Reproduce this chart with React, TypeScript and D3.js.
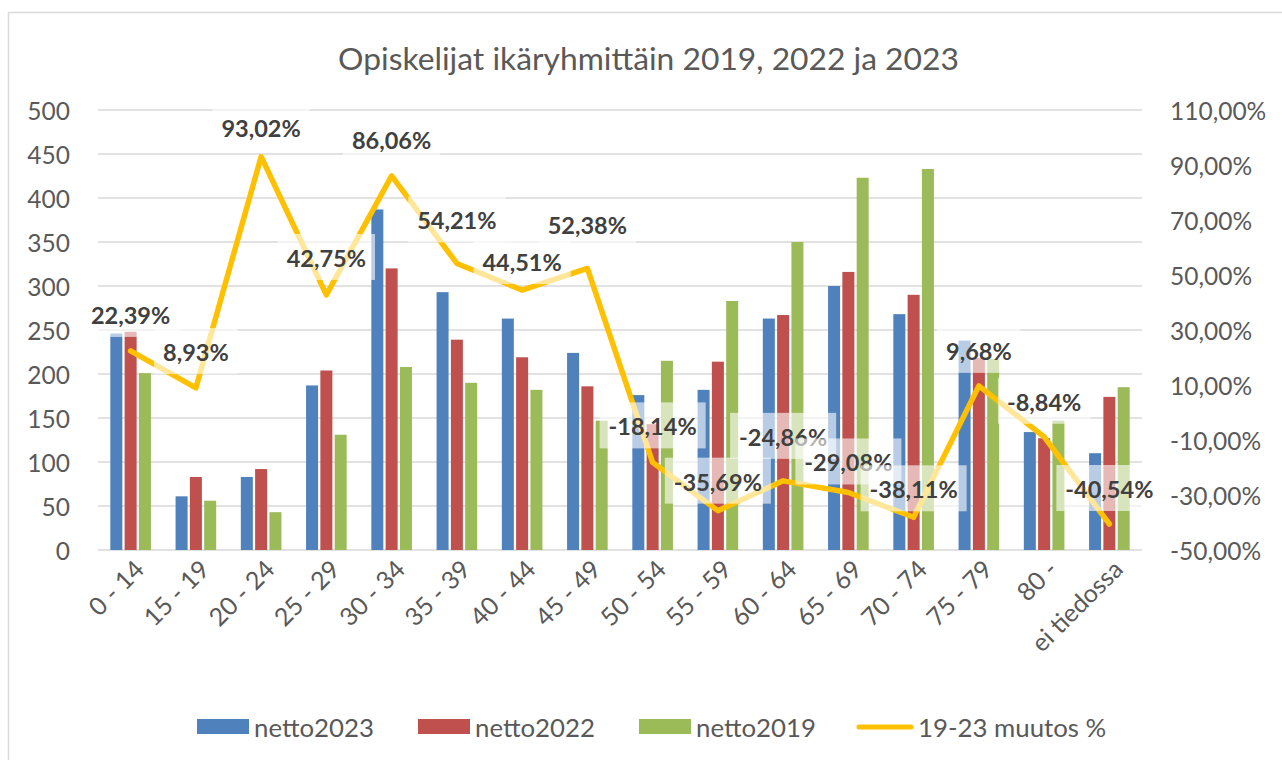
import React, { useEffect, useRef } from "react";
import * as d3 from "d3";

const categories = ["0 - 14", "15 - 19", "20 - 24", "25 - 29", "30 - 34", "35 - 39", "40 - 44", "45 - 49", "50 - 54", "55 - 59", "60 - 64", "65 - 69", "70 - 74", "75 - 79", "80 -", "ei tiedossa"];
const netto2023 = [246, 61, 83, 187, 387, 293, 263, 224, 176, 182, 263, 300, 268, 238, 134, 110];
const netto2022 = [248, 83, 92, 204, 320, 239, 219, 186, 143, 214, 267, 316, 290, 218, 127, 174];
const netto2019 = [201, 56, 43, 131, 208, 190, 182, 147, 215, 283, 350, 423, 433, 217, 147, 185];
const muutos = [22.39, 8.93, 93.02, 42.75, 86.06, 54.21, 44.51, 52.38, -18.14, -35.69, -24.86, -29.08, -38.11, 9.68, -8.84, -40.54];
const leftTicks = [0, 50, 100, 150, 200, 250, 300, 350, 400, 450, 500];
const rightTicks = [-50, -30, -10, 10, 30, 50, 70, 90, 110];
const seriesNames = ["netto2023", "netto2022", "netto2019"];
const lineName = "19-23 muutos %";
const title = "Opiskelijat ikäryhmittäin 2019, 2022 ja 2023";

// layout: vertical lift of each data label above its point (px), as placed in the original
const labelLift = [36, 36, 29, 37, 36, 43, 28, 43, 36, 29, 44, 30, 28, 35, 35, 35];

const COLORS = ["#4F81BD", "#C0504D", "#9BBB59"];
const LINE_COLOR = "#FFC000";
const FONT = "Lato, 'Open Sans', sans-serif";

const W = 1282, H = 760;

export default function App() {
  const ref = useRef<SVGSVGElement | null>(null);

  useEffect(() => {
    const svg = d3.select(ref.current);
    svg.selectAll("*").remove();

    const plotL = 98, plotR = 1142, plotT = 110, plotB = 550;
    const x = d3.scaleBand<string>().domain(categories).range([plotL, plotR]).padding(0);
    const yL = d3.scaleLinear().domain([0, 500]).range([plotB, plotT]);
    const yR = d3.scaleLinear().domain([-50, 110]).range([plotB, plotT]);
    const x1 = d3.scaleBand<string>().domain(seriesNames).range([0, 40.6]).paddingInner(0.16);
    const cx = (c: string) => (x(c) as number) + x.bandwidth() / 2;

    // background & border
    svg.append("rect").attr("x", 0).attr("y", 0).attr("width", W).attr("height", H).attr("fill", "#fff");
    svg.append("rect").attr("x", 8.5).attr("y", 12.5).attr("width", W + 20).attr("height", H + 20)
      .attr("fill", "none").attr("stroke", "#d9d9d9").attr("stroke-width", 1.5);

    // gridlines
    svg.append("g").selectAll("line").data(leftTicks).join("line")
      .attr("x1", plotL).attr("x2", plotR)
      .attr("y1", (d) => yL(d)).attr("y2", (d) => yL(d))
      .attr("stroke", "#d9d9d9").attr("stroke-width", 1.6);

    // bars
    const allSeries = [netto2023, netto2022, netto2019];
    allSeries.forEach((vals, si) => {
      svg.append("g").selectAll("rect").data(vals).join("rect")
        .attr("x", (d, i) => cx(categories[i]) - 20.3 + (x1(seriesNames[si]) as number))
        .attr("width", x1.bandwidth())
        .attr("y", (d) => yL(d))
        .attr("height", (d) => yL(0) - yL(d))
        .attr("fill", COLORS[si]);
    });

    // line
    const line = d3.line<number>()
      .x((d, i) => cx(categories[i]))
      .y((d) => yR(d));
    svg.append("path").datum(muutos).attr("d", line)
      .attr("fill", "none").attr("stroke", LINE_COLOR).attr("stroke-width", 5.5)
      .attr("stroke-linejoin", "round").attr("stroke-linecap", "round");

    // data labels
    const fmt = (v: number) => v.toFixed(2).replace(".", ",") + "%";
    const lg = svg.append("g");
    muutos.forEach((v, i) => {
      const px = cx(categories[i]);
      const py = yR(v) - labelLift[i];
      const g = lg.append("g");
      const rect = g.append("rect");
      const t = g.append("text").attr("x", px).attr("y", py).attr("text-anchor", "middle")
        .attr("dominant-baseline", "central")
        .attr("font-family", FONT).attr("font-weight", "bold").attr("font-size", 23.5)
        .attr("fill", "#404040").text(fmt(v));
      const w = (t.node() as SVGTextElement).getComputedTextLength();
      rect.attr("x", px - w / 2 - 9).attr("width", w + 18).attr("y", py - 24).attr("height", 46)
        .attr("fill", "#fff").attr("fill-opacity", 0.6);
    });

    // left axis labels
    svg.append("g").selectAll("text").data(leftTicks).join("text")
      .attr("x", 70).attr("y", (d) => yL(d)).attr("text-anchor", "end").attr("dominant-baseline", "central")
      .attr("font-family", FONT).attr("font-size", 24.5).attr("fill", "#595959").text((d) => String(d));

    // right axis labels
    svg.append("g").selectAll("text").data(rightTicks).join("text")
      .attr("x", 1170).attr("y", (d) => yR(d)).attr("text-anchor", "start").attr("dominant-baseline", "central")
      .attr("font-family", FONT).attr("font-size", 24.5).attr("fill", "#595959")
      .text((d) => d.toFixed(2).replace(".", ",") + "%");

    // x axis labels
    svg.append("g").selectAll("text").data(categories).join("text")
      .attr("transform", (d) => `translate(${cx(d) + 8},${plotB + 14}) rotate(-45)`)
      .attr("text-anchor", "end").attr("dominant-baseline", "central")
      .attr("font-family", FONT).attr("font-size", 25).attr("fill", "#595959").text((d) => d);

    // title
    svg.append("text").attr("x", 648.5).attr("y", 58)
      .attr("text-anchor", "middle").attr("dominant-baseline", "central")
      .attr("font-family", FONT).attr("font-size", 31.8).attr("fill", "#595959").text(title);

    // legend
    const legY = 727;
    const legItems = [
      { name: seriesNames[0], color: COLORS[0], x: 197, type: "rect" },
      { name: seriesNames[1], color: COLORS[1], x: 418, type: "rect" },
      { name: seriesNames[2], color: COLORS[2], x: 639, type: "rect" },
      { name: lineName, color: LINE_COLOR, x: 859, type: "line" },
    ];
    const leg = svg.append("g");
    legItems.forEach((it) => {
      if (it.type === "rect") {
        leg.append("rect").attr("x", it.x).attr("y", legY - 8).attr("width", 52).attr("height", 15).attr("fill", it.color);
        leg.append("text").attr("x", it.x + 57).attr("y", legY).attr("dominant-baseline", "central")
          .attr("font-family", FONT).attr("font-size", 25.8).attr("fill", "#595959").text(it.name);
      } else {
        leg.append("line").attr("x1", it.x).attr("x2", it.x + 52).attr("y1", legY).attr("y2", legY)
          .attr("stroke", it.color).attr("stroke-width", 5).attr("stroke-linecap", "round");
        leg.append("text").attr("x", it.x + 59).attr("y", legY).attr("dominant-baseline", "central")
          .attr("font-family", FONT).attr("font-size", 25.8).attr("fill", "#595959").text(it.name);
      }
    });
  }, []);

  return (
    <svg ref={ref} width={W} height={H} style={{ position: "absolute", left: 0, top: 0, display: "block" }} />
  );
}
